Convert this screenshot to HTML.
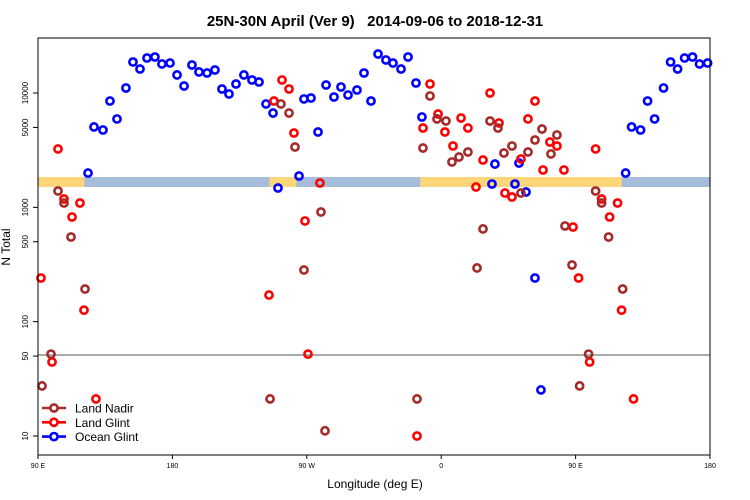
<!DOCTYPE html>
<html><head><meta charset="utf-8"><style>
body{margin:0;background:#fff}
svg{display:block;font-family:"Liberation Sans",sans-serif}
</style></head><body>
<svg id="chart" width="750" height="500" xmlns="http://www.w3.org/2000/svg">
<text x="375" y="26" text-anchor="middle" font-size="15" font-weight="bold">25N-30N April (Ver 9)&#160;&#160; 2014-09-06 to 2018-12-31</text>
<text x="375" y="488" text-anchor="middle" font-size="12">Longitude (deg E)</text>
<text transform="translate(10,247) rotate(-90)" text-anchor="middle" font-size="12">N Total</text>
<g id="band"></g>
<line x1="38" x2="710" y1="355" y2="355" stroke="#555" stroke-width="1"/>
<g id="yaxis"></g>
<g id="xaxis"></g>
<g id="points"></g>
<rect x="38" y="38" width="672" height="417" fill="none" stroke="#000" stroke-width="1"/>
<g id="legend"></g>
</svg>
<script>
const yTicks=[10,50,100,500,1000,5000,10000];
const xTickPos=[90,180,270,360,450,540];
const xTickLabels=["90 E","180","90 W","0","90 E","180"];
const landSegments=[[-115,-97],[-14,121]];
const seriesNames=["Land Nadir","Land Glint","Ocean Glint"];
const seriesColors=["#a52a2a","#ff0000","#0000ff"];
const nadirLon=[92.7,98.7,103.4,107.4,112.1,121.5,-114.6,-107.3,-101.9,-97.9,-91.9,-80.5,-77.8,-16.2,-12.2,-7.5,-2.8,3.2,7.2,11.9,17.9,24.0,28.0,32.7,38.0,42.0,47.4,53.4,58.1,62.8,67.5,73.5,77.5,82.9,87.6];
const nadirN=[27.4,52,1390,1091,550,193,21.1,8020,6680,3370,283,910,11.1,21.1,3300,9420,5930,5690,2493,2754,3048,295,647,5690,4940,2986,3440,1334,3048,3880,4840,2930,4295,687,313];
const glintLon=[92.0,99.4,103.4,107.4,112.8,118.1,120.8,128.8,-115.3,-112.0,-106.6,-101.9,-98.6,-91.2,-89.2,-81.2,-16.2,-12.2,-7.5,-2.1,2.5,7.9,13.3,17.9,23.3,28.0,32.7,38.7,42.7,47.4,53.4,58.1,62.8,68.2,72.8,77.5,82.2,88.3];
const glintN=[241,44.4,3240,1183,823,1091,126,21.1,171,8510,13000,10840,4470,760,52,1633,10,4940,11990,6550,4560,3440,6040,4940,1507,2595,10000,5470,1334,1231,2649,5930,8510,2122,3724,3440,2122,673];
const oceanLon=[123.5,127.5,133.5,138.2,142.9,148.9,153.6,158.3,163.0,168.3,173.0,178.4,-176.9,-172.2,-166.9,-162.2,-156.8,-151.5,-146.8,-142.1,-137.4,-132.1,-126.7,-122.0,-117.3,-112.6,-109.3,-95.2,-91.9,-87.2,-82.5,-77.1,-71.8,-67.1,-62.4,-56.4,-51.7,-47.0,-42.3,-37.0,-32.3,-26.9,-22.2,-16.9,-12.9,34.0,36.0,49.4,52.1,56.8,62.8,66.8];
const oceanN=[1995,5047,4750,8511,5929,11066,18670,16218,20230,20650,17950,18290,14390,11510,17580,15280,14960,15890,10840,9800,11990,14390,13000,12480,8020,6680,1476,1880,8870,9040,4560,11750,9230,11290,9610,10620,14960,8510,21930,19450,18290,16220,20650,12240,6170,1600,2390,1600,2440,1362,241,25.3];

const NS="http://www.w3.org/2000/svg";
const X0=38,X1=710,U0=90,U1=540;
function xs(u){return X0+(u-U0)*(X1-X0)/(U1-U0);}
function ys(n){return 436-(Math.log10(n)-1)*114.33;}
function unwrap(lon){const r=[];if(lon>=90)r.push(lon);r.push(lon+360);return r.filter(u=>u>=U0&&u<=U1);}
function mk(tag,attrs,parent){const e=document.createElementNS(NS,tag);for(const k in attrs)e.setAttribute(k,attrs[k]);parent.appendChild(e);return e;}

const band=document.getElementById('band');
const by0=ys(1841),by1=ys(1507);
let r=mk('rect',{x:X0,y:by0,width:X1-X0,height:by1-by0,fill:'#a5bcdb'},band);


landSegments.forEach(s=>{
  [[s[0],s[1]],[s[0]+360,s[1]+360]].forEach(p=>{
    const a=Math.max(p[0],U0),b=Math.min(p[1],U1);
    if(b>a){const e=mk('rect',{x:xs(a),y:by0,width:xs(b)-xs(a),height:by1-by0,fill:'#fed67a'},band);
      
      }
  });
});
const ya=document.getElementById('yaxis');
yTicks.forEach(t=>{
  const y=ys(t);
  const l=mk('line',{x1:33,x2:38,y1:y,y2:y,stroke:'#000'},ya);
  
  
  const tx=mk('text',{transform:`translate(28,${y}) rotate(-90)`,'text-anchor':'middle','font-size':'8'},ya);
  tx.textContent=t;
  
  
});
const xa=document.getElementById('xaxis');
xTickPos.forEach((u,i)=>{
  const x=xs(u);
  const l=mk('line',{x1:x,x2:x,y1:455,y2:459,stroke:'#000'},xa);
  
  
  const tx=mk('text',{x:x,y:468,'text-anchor':'middle','font-size':'7'},xa);
  tx.textContent=xTickLabels[i];
  
  
});
const pg=document.getElementById('points');
const lons=[nadirLon,glintLon,oceanLon],ns=[nadirN,glintN,oceanN],pnames=['land-nadir-point','land-glint-point','ocean-glint-point'];
[2,1,0].forEach(si=>{
  lons[si].forEach((lon,i)=>{
    unwrap(lon).forEach(u=>{
      const c=mk('circle',{cx:xs(u),cy:ys(ns[si][i]),r:3.6,fill:'none',stroke:seriesColors[si],'stroke-width':2.6},pg);
      
      
    });
  });
});
const lg=document.getElementById('legend');
seriesNames.forEach((nm,i)=>{
  const y=408+i*14.3;
  const l=mk('line',{x1:42,x2:66,y1:y,y2:y,stroke:seriesColors[i],'stroke-width':2.6},lg);
  
  
  const c=mk('circle',{cx:54,cy:y,r:3.6,fill:'#fff',stroke:seriesColors[i],'stroke-width':2.6},lg);
  
  
  const t=mk('text',{x:75,y:y+4.5,'font-size':'12'},lg);
  t.textContent=nm;
  
  
});
</script>
</body></html>
